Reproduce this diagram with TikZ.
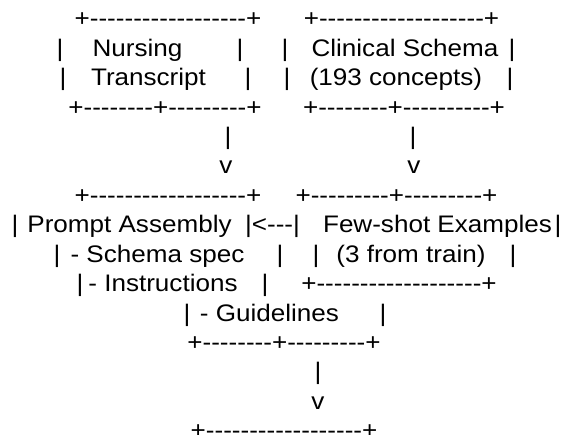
\documentclass[tikz,border=0pt]{standalone}
\usepackage{fontspec}
\newfontfamily\asciifont[FakeStretch=1.09,Ligatures=TeXOff]{Liberation Sans}
\begin{document}
\begin{tikzpicture}[x=1bp,y=-1bp,
  txt/.style={inner sep=0pt,outer sep=0pt,anchor=base,font=\asciifont\fontsize{24}{24}\selectfont,text=black}]
\useasboundingbox[fill=white] (0,0) rectangle (567,435);
\def\ya{27.0}\def\dy{29.4}
% line 1
\node[txt] (l1a) at (168,{\ya+0*\dy}) {+------------------+};
\node[txt] (l1b) at (401.5,{\ya+0*\dy}) {+-------------------+};
% line 2
\node[txt] (l2a) at (60,{\ya+1*\dy}) {|};
\node[txt] (l2b) at (137.5,{\ya+1*\dy}) {Nursing};
\node[txt] (l2c) at (240,{\ya+1*\dy}) {|};
\node[txt] (l2d) at (285,{\ya+1*\dy}) {|};
\node[txt] (l2e) at (405,{\ya+1*\dy}) {Clinical Schema};
\node[txt] (l2f) at (512,{\ya+1*\dy}) {|};
% line 3
\node[txt] (l3a) at (63,{\ya+2*\dy}) {|};
\node[txt] (l3b) at (148.5,{\ya+2*\dy}) {Transcript};
\node[txt] (l3c) at (248,{\ya+2*\dy}) {|};
\node[txt] (l3d) at (287,{\ya+2*\dy}) {|};
\node[txt] (l3e) at (396,{\ya+2*\dy}) {(193 concepts)};
\node[txt] (l3f) at (510,{\ya+2*\dy}) {|};
% line 4
\node[txt] (l4a) at (165,{\ya+3*\dy}) {+--------+---------+};
\node[txt] (l4b) at (404,{\ya+3*\dy}) {+--------+----------+};
% line 5-6
\node[txt] (l5a) at (228,{\ya+4*\dy}) {|};
\node[txt] (l5b) at (413,{\ya+4*\dy}) {|};
\node[txt] (l6a) at (226,{\ya+5*\dy}) {v};
\node[txt] (l6b) at (414,{\ya+5*\dy}) {v};
% line 7
\node[txt] (l7a) at (168,{\ya+6*\dy}) {+------------------+};
\node[txt] (l7b) at (396.5,{\ya+6*\dy}) {+---------+---------+};
% line 8
\node[txt] (l8a) at (15,{\ya+7*\dy}) {|};
\node[txt] (l8b) at (129.5,{\ya+7*\dy}) {Prompt Assembly};
\node[txt] (l8c) at (272.5,{\ya+7*\dy}) {|<---|};
\node[txt] (l8d) at (437.5,{\ya+7*\dy}) {Few-shot Examples};
\node[txt] (l8e) at (558,{\ya+7*\dy}) {|};
% line 9
\node[txt] (l9a) at (57,{\ya+8*\dy}) {|};
\node[txt] (l9b) at (157.5,{\ya+8*\dy}) {- Schema spec};
\node[txt] (l9c) at (280,{\ya+8*\dy}) {|};
\node[txt] (l9d) at (316,{\ya+8*\dy}) {|};
\node[txt] (l9e) at (411,{\ya+8*\dy}) {(3 from train)};
\node[txt] (l9f) at (513,{\ya+8*\dy}) {|};
% line 10
\node[txt] (l10a) at (80,{\ya+9*\dy}) {|};
\node[txt] (l10b) at (163,{\ya+9*\dy}) {- Instructions};
\node[txt] (l10c) at (265,{\ya+9*\dy}) {|};
\node[txt] (l10d) at (399,{\ya+9*\dy}) {+-------------------+};
% line 11
\node[txt] (l11a) at (187,{\ya+10*\dy}) {|};
\node[txt] (l11b) at (269.5,{\ya+10*\dy}) {- Guidelines};
\node[txt] (l11c) at (383,{\ya+10*\dy}) {|};
% line 12-15
\node[txt] (l12) at (284,{\ya+11*\dy}) {+--------+---------+};
\node[txt] (l13) at (318,{\ya+12*\dy}) {|};
\node[txt] (l14) at (318,{\ya+13*\dy}) {v};
\node[txt] (l15) at (284,{\ya+14*\dy}) {+------------------+};
\end{tikzpicture}
\end{document}
